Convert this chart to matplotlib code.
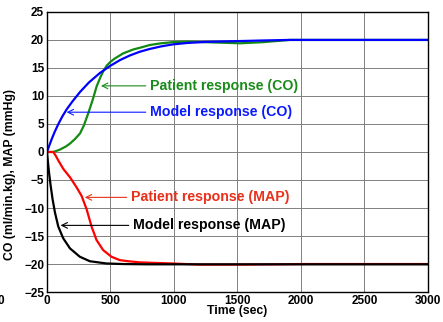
import numpy as np
import matplotlib.pyplot as plt

plt.rcParams['font.family'] = ['Liberation Sans', 'DejaVu Sans']
plt.rcParams['font.weight'] = 'bold'

# values (time in sec)
t_model_co = [0, 20, 40, 63, 90, 120, 155, 200, 260, 330, 417, 500, 575, 650, 732, 811,
              900, 990, 1100, 1250, 1520, 1700, 1913, 2200, 2500, 3000]
model_co = [0, 1.25, 2.45, 3.7, 5.0, 6.3, 7.6, 9.0, 10.7, 12.4, 14.1, 15.4, 16.4, 17.2, 17.9, 18.4,
            18.85, 19.2, 19.45, 19.65, 19.8, 19.9, 20.0, 20.0, 20.0, 20.0]

t_patient_co = [0, 50, 100, 150, 181, 220, 260, 290, 325, 360, 391, 420, 443, 470, 500, 535, 600,
                680, 732, 811, 900, 990, 1100, 1250, 1520, 1700, 1913, 2200, 3000]
patient_co = [0, 0, 0.4, 1.0, 1.5, 2.3, 3.3, 4.7, 6.9, 9.3, 11.7, 13.3, 14.4, 15.4, 16.1, 16.7, 17.6,
              18.3, 18.6, 19.1, 19.4, 19.6, 19.7, 19.6, 19.4, 19.6, 20.0, 20.0, 20.0]

t_patient_map = [0, 50, 70, 89, 128, 181, 233, 272, 312, 351, 390, 442, 508, 573, 640, 732,
                 850, 990, 1200, 1500, 1800, 2000, 2500, 3000]
patient_map = [0, 0, -0.7, -1.5, -3.0, -4.5, -6.3, -7.8, -10.2, -13.3, -15.7, -17.5, -18.7, -19.3, -19.5, -19.7,
               -19.8, -19.9, -20.1, -20.1, -20.05, -20.0, -20.0, -20.0]

t_model_map = [0, 5, 16, 29, 44, 63, 89, 128, 181, 259, 338, 468, 600, 800, 1000, 1500, 2000, 2500, 3000]
model_map = [0, -1.2, -3.6, -6.0, -8.4, -10.8, -13.3, -15.4, -17.2, -18.7, -19.5, -19.9, -20.0, -20.05,
             -20.05, -20.05, -20.05, -20.05, -20.05]

fig = plt.figure(figsize=(4.43, 3.22), dpi=100)
ax = fig.add_axes([0.106, 0.093, 0.860, 0.870])

kw = dict(lw=1.6, solid_joinstyle='round')
ax.plot(t_patient_co, patient_co, color='#138a13', **kw)
ax.plot(t_model_co, model_co, color='#0000ff', **kw)
ax.plot(t_patient_map, patient_map, color='#ff0000', **kw)
ax.plot(t_model_map, model_map, color='black', **kw)

ann = [
    ('Patient response (CO)', (425, 11.8), (811, 11.8), '#1a8c1a'),
    ('Model response (CO)', (155, 7.1), (811, 7.1), '#0a1aff'),
    ('Patient response (MAP)', (298, -8.1), (661, -8.1), '#e8301a'),
    ('Model response (MAP)', (107, -13.1), (677, -13.1), 'black'),
]
for txt, xy, xytext, c in ann:
    ax.annotate(txt, xy=xy, xytext=xytext, color=c, fontsize=10.2, fontweight='bold',
                ha='left', va='center',
                arrowprops=dict(arrowstyle='->', color=c, lw=0.8, shrinkA=1, shrinkB=0))

ax.set_xlim(0, 3000)
ax.set_ylim(-25, 25)
ax.set_xticks(np.arange(0, 3001, 500))
ax.set_yticks(np.arange(-25, 26, 5))
ax.grid(True, color='#808080', lw=0.7)
ax.tick_params(labelsize=8.5, length=0, pad=2)
for s in ax.spines.values():
    s.set_linewidth(1.0)

ax.set_xlabel('Time (sec)', fontsize=8.8, fontweight='bold', labelpad=-1)
ax.set_ylabel('CO (ml/min.kg), MAP (mmHg)', fontsize=8.8, fontweight='bold')
ax.yaxis.set_label_coords(-0.08, 0.42)

fig.text(0.002, 0.066, '0', fontsize=8.5, fontweight='bold', ha='center', va='center')

fig.savefig('out.png', dpi=100)
